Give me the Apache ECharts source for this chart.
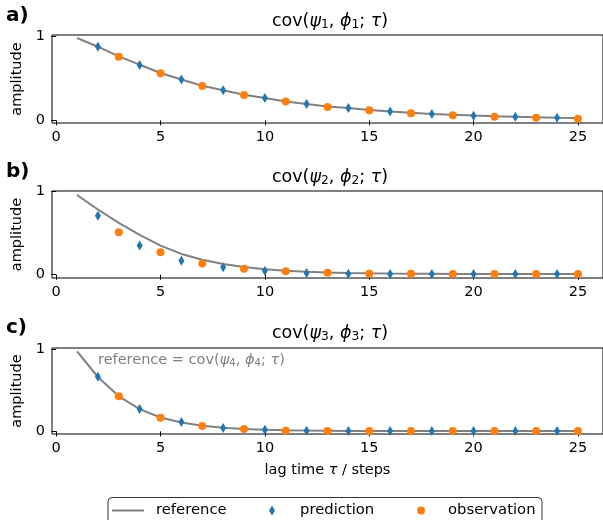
<!DOCTYPE html>
<html>
<head>
<meta charset="utf-8">
<script src="https://cdn.jsdelivr.net/npm/echarts@6/dist/echarts.min.js"></script>
<style>
  html, body { margin: 0; padding: 0; background: #fff; }
  #chart { width: 603px; height: 520px; }
</style>
</head>
<body>
<div id="chart"></div>
<script>
// Lag axis (steps)
const lags = [1, 2, 3, 4, 5, 6, 7, 8, 9, 10, 11, 12, 13, 14, 15, 16, 17, 18, 19, 20, 21, 22, 23, 24, 25];
const predictionLags = [2, 4, 6, 8, 10, 12, 14, 16, 18, 20, 22, 24];
const observationLags = [3, 5, 7, 9, 11, 13, 15, 17, 19, 21, 23, 25];

// Panel a: cov(psi1, phi1; tau)
const referenceA = [0.984, 0.88, 0.765, 0.665, 0.566, 0.488, 0.413, 0.36, 0.305, 0.268, 0.226, 0.196, 0.165, 0.147, 0.124, 0.106, 0.09, 0.077, 0.066, 0.057, 0.049, 0.043, 0.037, 0.032, 0.029];
const predictionA = [0.88, 0.66, 0.489, 0.36, 0.268, 0.195, 0.148, 0.104, 0.076, 0.056, 0.044, 0.032];
const observationA = [0.76, 0.564, 0.41, 0.304, 0.224, 0.16, 0.12, 0.084, 0.06, 0.044, 0.032, 0.02];

// Panel b: cov(psi2, phi2; tau)
const referenceB = [0.96, 0.785, 0.625, 0.48, 0.35, 0.25, 0.18, 0.128, 0.092, 0.066, 0.048, 0.035, 0.026, 0.02, 0.016, 0.013, 0.011, 0.01, 0.009, 0.008, 0.008, 0.007, 0.007, 0.007, 0.007];
const predictionB = [0.71, 0.35, 0.168, 0.088, 0.048, 0.02, 0.012, 0.008, 0.008, 0.008, 0.008, 0.008];
const observationB = [0.51, 0.27, 0.136, 0.072, 0.04, 0.024, 0.012, 0.01, 0.008, 0.008, 0.008, 0.008];

// Panel c: cov(psi3, phi3; tau), reference taken from cov(psi4, phi4; tau)
const referenceC = [0.972, 0.66, 0.425, 0.27, 0.168, 0.108, 0.068, 0.043, 0.028, 0.019, 0.013, 0.009, 0.007, 0.005, 0.004, 0.004, 0.003, 0.003, 0.003, 0.003, 0.003, 0.003, 0.003, 0.003, 0.003];
const predictionC = [0.663, 0.27, 0.113, 0.041, 0.02, 0.008, 0.005, 0.004, 0.004, 0.004, 0.004, 0.004];
const observationC = [0.426, 0.165, 0.065, 0.029, 0.008, 0.005, 0.004, 0.004, 0.004, 0.004, 0.004, 0.004];

// Tick labels
const xTicks = [0, 5, 10, 15, 20, 25];
const yTicks = [0, 1];

const FONT = 'DejaVu Sans';
const GREY = '#808080';
const BLUE = '#1f77b4';
const ORANGE = '#ff7f0e';

const panels = [
  { ref: referenceA, pred: predictionA, obs: observationA, top: 35, height: 88, yMin: -0.032, yMax: 1.02 },
  { ref: referenceB, pred: predictionB, obs: observationB, top: 191, height: 87, yMin: -0.04, yMax: 1.008 },
  { ref: referenceC, pred: predictionC, obs: observationC, top: 348, height: 86, yMin: -0.032, yMax: 1.012 }
];

const pairs = (xs, ys) => xs.map((x, i) => [x, ys[i]]);

const grid = [], xAxis = [], yAxis = [], series = [];
panels.forEach((p, i) => {
  grid.push({
    left: 52, top: p.top, width: 556, height: p.height,
    show: true, borderColor: '#000', borderWidth: 1, backgroundColor: 'transparent'
  });
  xAxis.push({
    type: 'value', gridIndex: i, min: -0.2, max: 26.2,
    axisLine: { show: false },
    axisTick: { show: true, length: 5, customValues: xTicks, lineStyle: { color: '#000', width: 1 } },
    axisLabel: { customValues: xTicks, margin: 7, fontSize: 14.5, color: '#000', fontFamily: FONT },
    splitLine: { show: false },
    name: i === 2 ? '{n|lag time }{i|τ}{n| / steps}' : '',
    nameLocation: 'middle', nameGap: 29,
    nameTextStyle: {
      color: '#000', fontFamily: FONT, fontSize: 14.5,
      rich: {
        n: { fontFamily: FONT, fontSize: 14.5, color: '#000' },
        i: { fontFamily: FONT, fontSize: 14.5, fontStyle: 'italic', color: '#000' }
      }
    }
  });
  yAxis.push({
    type: 'value', gridIndex: i, min: p.yMin, max: p.yMax,
    axisLine: { show: false },
    axisTick: { show: true, length: 5, customValues: yTicks, lineStyle: { color: '#000', width: 1 } },
    axisLabel: { customValues: yTicks, margin: 7, fontSize: 14.5, color: '#000', fontFamily: FONT },
    splitLine: { show: false },
    name: 'amplitude', nameLocation: 'middle', nameGap: 27,
    nameTextStyle: { color: '#000', fontFamily: FONT, fontSize: 14.5 }
  });
  series.push({
    name: 'reference', type: 'line', xAxisIndex: i, yAxisIndex: i,
    data: pairs(lags, p.ref), symbol: 'none', smooth: false,
    lineStyle: { color: GREY, width: 2 }, itemStyle: { color: GREY }, z: 2
  });
  series.push({
    name: 'prediction', type: 'scatter', xAxisIndex: i, yAxisIndex: i,
    data: pairs(predictionLags, p.pred), symbol: 'diamond', symbolSize: [6, 10],
    itemStyle: { color: BLUE, opacity: 1 }, z: 3
  });
  series.push({
    name: 'observation', type: 'scatter', xAxisIndex: i, yAxisIndex: i,
    data: pairs(observationLags, p.obs), symbol: 'circle', symbolSize: 8,
    itemStyle: { color: ORANGE, opacity: 1 }, z: 4
  });
});

// Rich-text styles for the mathematical titles
function mathRich(size, color) {
  return {
    n: { fontFamily: FONT, fontSize: size, fill: color, color: color },
    i: { fontFamily: FONT, fontSize: size, fontStyle: 'italic', fill: color, color: color },
    s: { fontFamily: FONT, fontSize: size * 0.7, fill: color, color: color, padding: [size * 0.45, 0, 0, 0] }
  };
}
const covText = k => '{n|cov(}{i|ψ}{s|' + k + '}{n|, }{i|ϕ}{s|' + k + '}{n|; }{i|τ}{n|)}';

const panelTags = ['a)', 'b)', 'c)'];
const titleY = [21, 177, 333];
const graphic = [];
panels.forEach((p, i) => {
  graphic.push({
    type: 'text', x: 330, y: titleY[i],
    style: { text: covText(i + 1), rich: mathRich(17.5, '#000'), align: 'center', verticalAlign: 'middle', fill: '#000' }
  });
  graphic.push({
    type: 'text', x: 6, y: titleY[i] - 5,
    style: { text: panelTags[i], fontFamily: FONT, fontSize: 20, fontWeight: 'bold', fill: '#000', align: 'left', verticalAlign: 'middle' }
  });
});
graphic.push({
  type: 'text', x: 98, y: 360,
  style: { text: '{n|reference = }' + covText(4), rich: mathRich(14.5, GREY), align: 'left', verticalAlign: 'middle', fill: GREY }
});
// Legend frame
graphic.push({
  type: 'rect', z: -1,
  shape: { x: 108, y: 497.5, width: 434, height: 40, r: 4 },
  style: { fill: '#fff', stroke: '#333', lineWidth: 1 }
});

const legendText = pad => ({ fontFamily: FONT, fontSize: 14.8, color: '#000', padding: [0, 0, 0, pad] });
const legend = [
  { left: 112, top: 503, padding: 0, itemWidth: 32, itemHeight: 2, data: [{ name: 'reference', icon: 'rect' }], textStyle: legendText(7), z: 10 },
  { left: 269, top: 503, padding: 0, itemWidth: 6, itemHeight: 10, data: [{ name: 'prediction', icon: 'diamond' }], textStyle: legendText(20), z: 10 },
  { left: 417, top: 503, padding: 0, itemWidth: 8, itemHeight: 8, data: [{ name: 'observation', icon: 'circle' }], textStyle: legendText(18), z: 10 }
];

const chart = echarts.init(document.getElementById('chart'), null, { renderer: 'canvas' });
chart.setOption({
  animation: false,
  backgroundColor: '#fff',
  grid, xAxis, yAxis, series, graphic, legend
});
</script>
</body>
</html>
